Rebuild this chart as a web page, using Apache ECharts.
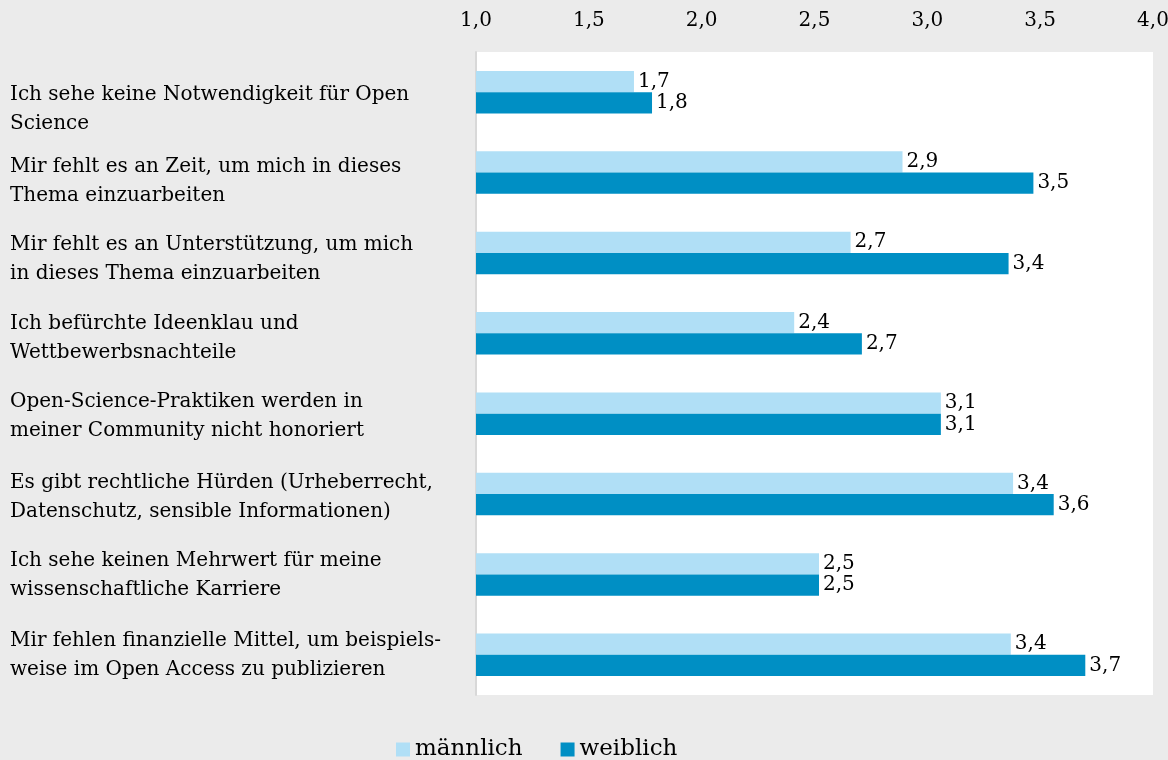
<!DOCTYPE html>
<html>
<head>
<meta charset="utf-8">
<script src="https://cdn.jsdelivr.net/npm/echarts@6/dist/echarts.min.js"></script>
<style>
	html, body { margin: 0; padding: 0; background: #ebebeb; }
	#chart { width: 1168px; height: 760px; }
</style>
</head>
<body>
<div id="chart"></div>
<script>
// Gründe gegen Open Science, Mittelwerte nach Geschlecht
var categories = [
	'Ich sehe keine Notwendigkeit für Open\nScience',
	'Mir fehlt es an Zeit, um mich in dieses\nThema einzuarbeiten',
	'Mir fehlt es an Unterstützung, um mich\nin dieses Thema einzuarbeiten',
	'Ich befürchte Ideenklau und\nWettbewerbsnachteile',
	'Open-Science-Praktiken werden in\nmeiner Community nicht honoriert',
	'Es gibt rechtliche Hürden (Urheberrecht,\nDatenschutz, sensible Informationen)',
	'Ich sehe keinen Mehrwert für meine\nwissenschaftliche Karriere',
	'Mir fehlen finanzielle Mittel, um beispiels-\nweise im Open Access zu publizieren'
];
var maennlich = [1.70, 2.89, 2.66, 2.41, 3.06, 3.38, 2.52, 3.37];
var weiblich = [1.78, 3.47, 3.36, 2.71, 3.06, 3.56, 2.52, 3.70];
var seriesNames = ['männlich', 'weiblich'];
var axisTicks = [1.0, 4.0, 0.5]; // min, max, Schrittweite

(function () {
	var myChart = echarts.init(document.getElementById('chart'));
	var font = "'DejaVu Serif', 'Liberation Serif', serif";
	// die Beschriftungen oben sitzen etwas tiefer als die Balkenmitte
	// -> unsichtbare Leerzeile mit passender Höhe davor
	var labelShift = [17, 9, 6, 5, 3, 3, 1, 0];
	var rich = {};
	labelShift.forEach(function (s, i) {
		rich['g' + i] = { fontSize: 1, height: s * 2, lineHeight: s * 2 };
	});
	// Zahlen mit Komma
	function komma(v) {
		return Number(v).toFixed(1).replace('.', ',');
	}
	var barLabel = {
		show: true,
		position: 'right',
		distance: 4,
		color: '#000',
		fontSize: 20,
		fontFamily: font,
		formatter: function (p) { return komma(p.value); }
	};
	var option = {
		backgroundColor: '#ebebeb',
		color: ['#b0dff6', '#008fc4'],
		animation: false,
		textStyle: { fontFamily: font },
		grid: {
			left: 476,
			right: 15,
			top: 52,
			bottom: 65,
			containLabel: false,
			outerBoundsMode: 'none',
			show: true,
			backgroundColor: '#ffffff',
			borderWidth: 0
		},
		legend: {
			data: seriesNames,
			bottom: -6,
			left: 391,
			icon: 'rect',
			itemWidth: 14,
			itemHeight: 14,
			itemGap: 38,
			textStyle: { color: '#000', fontSize: 23, fontFamily: font }
		},
		xAxis: {
			type: 'value',
			position: 'top',
			min: axisTicks[0],
			max: axisTicks[1],
			interval: axisTicks[2],
			axisLine: { show: false },
			axisTick: { show: false },
			splitLine: { show: false },
			axisLabel: {
				color: '#000',
				fontSize: 20,
				fontFamily: font,
				margin: 21,
				formatter: komma
			}
		},
		yAxis: {
			type: 'category',
			inverse: true,
			data: categories,
			axisTick: { show: false },
			axisLine: {
				lineStyle: { color: '#d8d8d8', width: 2 }
			},
			axisLabel: {
				align: 'left',
				margin: 466,
				interval: 0,
				hideOverlap: false,
				color: '#000',
				fontSize: 20,
				lineHeight: 29,
				fontFamily: font,
				rich: rich,
				formatter: function (value, index) {
					if (!labelShift[index]) return value;
					return '{g' + index + '| }\n' + value;
				}
			}
		},
		series: [{
			name: seriesNames[0],
			type: 'bar',
			data: maennlich,
			barGap: 0,
			barCategoryGap: '47%',
			label: barLabel
		}, {
			name: seriesNames[1],
			type: 'bar',
			data: weiblich,
			barGap: 0,
			barCategoryGap: '47%',
			label: barLabel
		}]
	};
	myChart.setOption(option);
	window.addEventListener('resize', function () {
		myChart.resize();
	});
})();
</script>
</body>
</html>
